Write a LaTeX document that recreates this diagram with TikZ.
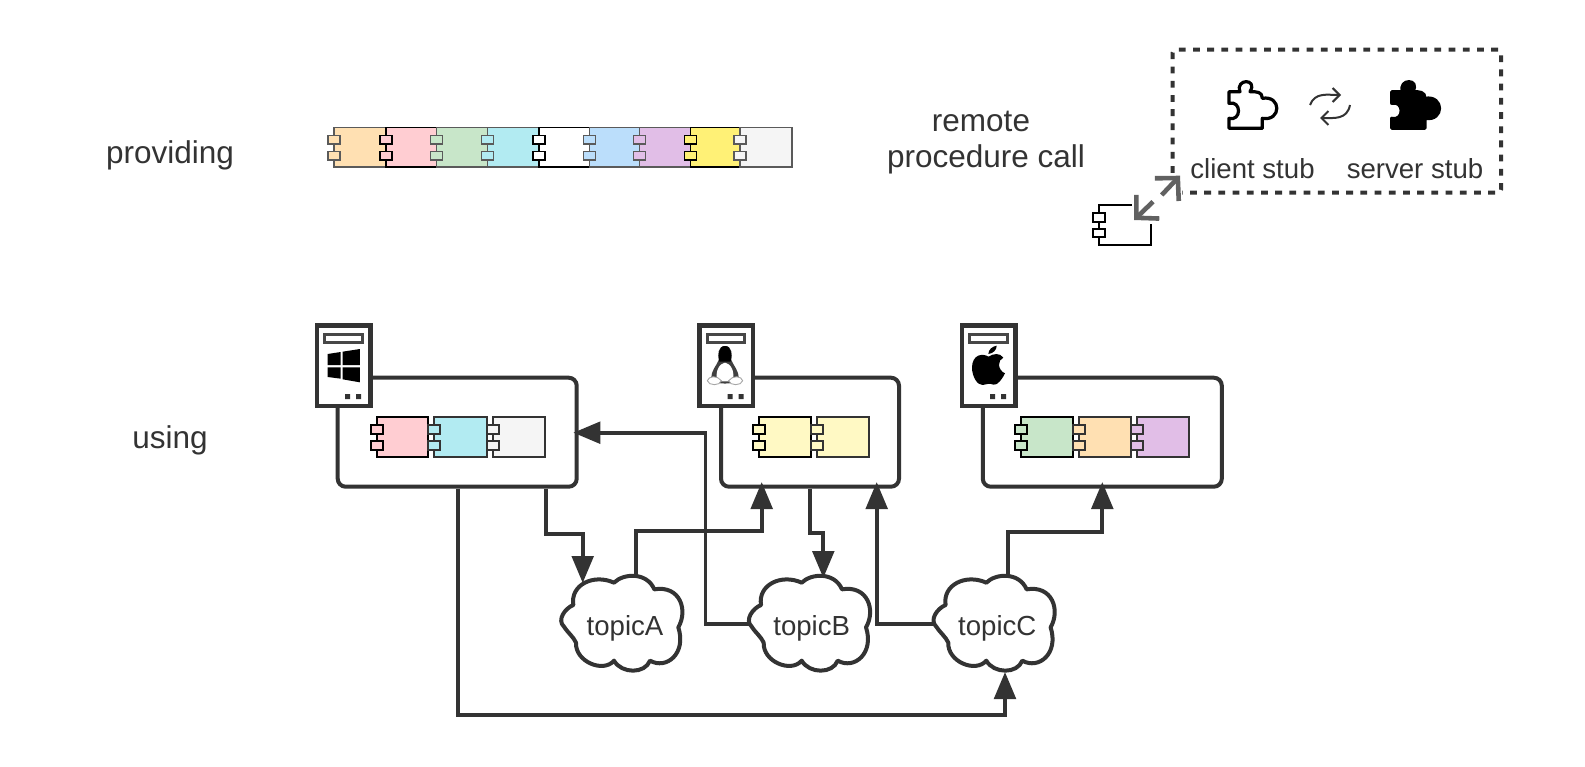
\documentclass[tikz,border=0pt]{standalone}
\usepackage{fontspec}
\setmainfont{Liberation Sans}
\usetikzlibrary{arrows.meta,calc}
\definecolor{ink}{HTML}{333333}
\definecolor{cgrey}{HTML}{5A5A5A}
\definecolor{corange}{HTML}{FFE0B2}
\definecolor{cpink}{HTML}{FFCDD2}
\definecolor{cgreen}{HTML}{C8E6C9}
\definecolor{ccyan}{HTML}{B2EBF2}
\definecolor{cblue}{HTML}{BBDEFB}
\definecolor{cpurple}{HTML}{E1BEE7}
\definecolor{cyellow}{HTML}{FFF176}
\definecolor{clight}{HTML}{F5F5F5}
\definecolor{cpale}{HTML}{FFF9C4}
\newcommand{\compo}[6]{%
  \draw[draw=#5,fill=#4,line width=#6] (#1,#3) rectangle (#2,#3+39.5);
  \draw[draw=#5,fill=#4,line width=#6] (#1-6,#3+8) rectangle (#1+6,#3+16.5);
  \draw[draw=#5,fill=#4,line width=#6] (#1-6,#3+24) rectangle (#1+6,#3+32.3);
}
\newcommand{\servericon}[2]{%
  \draw[draw=ink,fill=white,line width=4.5] (#1+2,325.5) rectangle (#1+55.5,406);
  \draw[draw=ink!90,fill=white,line width=3] (#1+9.5,334.5) rectangle (#1+47,342.5);
  \fill[ink] (#1+30,394) rectangle (#1+35,399) (#1+41,394) rectangle (#1+46,399);
}
\newcommand{\cloudshape}[1]{%
  \begin{scope}[shift={(540+#1,530)},x=0.3333pt,y=-0.3333pt]
  \draw[cloudline] (100,225) .. controls (75,235) and (50,270) .. (72,290)
    .. controls (85,310) and (100,320) .. (108,338)
    .. controls (105,395) and (190,430) .. (222,392)
    .. controls (245,432) and (315,432) .. (330,392)
    .. controls (380,420) and (440,370) .. (415,292)
    .. controls (445,240) and (420,165) .. (343,178)
    .. controls (320,125) and (250,130) .. (222,158)
    .. controls (160,130) and (90,165) .. (100,225) -- cycle;
  \end{scope}
}
\newcommand{\puzzle}[2]{%
  \begin{scope}[shift={(1060+#1,40)},x=0.3333pt,y=-0.3333pt]
  \draw[line width=3.2pt,line join=round,draw=black,fill=#2]
    (507,265) -- (607,265) -- (607,235)
    .. controls (665,245) and (665,165) .. (607,175)
    .. controls (607,155) and (590,155) .. (570,155)
    .. controls (595,115) and (525,115) .. (540,155)
    -- (507,155) -- (507,190)
    .. controls (545,180) and (545,245) .. (507,235) -- cycle;
  \end{scope}
}
\tikzset{
  lab/.style={font=\fontsize{31.5}{36.5}\selectfont,text=ink,inner sep=0pt},
  small/.style={font=\fontsize{27.6}{32}\selectfont,text=ink,inner sep=0pt,anchor=base},
  hostbox/.style={draw=ink,line width=4pt,rounded corners=8pt,fill=white},
  cloudline/.style={draw=ink,fill=white,line width=4pt,line join=round},
  cloudbox/.style={minimum width=122pt,minimum height=96pt,inner sep=0pt},
  conn/.style={draw=ink,line width=3.8pt,line join=miter,-{Triangle[length=27pt,width=21.5pt]}},
  dbl/.style={draw=black!62,line width=4.6pt,-{Straight Barb[length=16pt,width=33pt]}},
}
\begin{document}
\begin{tikzpicture}[x=1pt,y=-1pt]
\useasboundingbox (0,0) rectangle (1585,766);
\fill[white] (0,0) rectangle (1585,766);

% labels
\node[lab,anchor=base] (providing) at (170,163) {providing};
\node[lab,anchor=base] (using) at (170,448) {using};
\node[lab,align=center] (rpc) at (986,142.5) {remote\hspace*{10pt}\\procedure call};

% provider bar
\compo{334}{386}{127.7}{corange}{cgrey}{1.5pt}
\compo{386}{436.7}{127.7}{cpink}{black}{1.5pt}
\compo{436.7}{487.3}{127.7}{cgreen}{cgrey}{1.5pt}
\compo{487.3}{539}{127.7}{ccyan}{cgrey}{1.5pt}
\compo{539}{589.3}{127.7}{white}{black}{1.5pt}
\compo{589.3}{639.3}{127.7}{cblue}{cgrey}{1.5pt}
\compo{639.3}{690.7}{127.7}{cpurple}{cgrey}{1.5pt}
\compo{690.7}{740}{127.7}{cyellow}{black}{1.5pt}
\compo{740}{792}{127.7}{clight}{cgrey}{1.5pt}

% stub group
\node[draw=ink,line width=4pt,dash pattern=on 6.8pt off 7.4pt,rounded corners=3pt,minimum width=328.3pt,minimum height=143pt,inner sep=0pt] (stubs) at (1336.85,121.2) {};
\puzzle{0}{white}
\puzzle{162.7}{black}
\draw[ink,line width=2pt,-{Straight Barb[length=7pt,width=14pt]}] (1310,105) .. controls (1315,92) and (1327,95) .. (1341,95);
\draw[ink,line width=2pt,-{Straight Barb[length=7pt,width=14pt]}] (1350,105) .. controls (1347,120) and (1334,118) .. (1320,118);
\node[small] (client) at (1252.5,178.3) {client stub};
\node[small] (server) at (1415,178.3) {server stub};

% lone component with its two arrows
\compo{1099}{1150.7}{205}{white}{black}{2pt}
\coordinate (dblA) at (1134,220);
\coordinate (dblB) at (1180,175.7);
\coordinate (gapA) at (1153,201.7);
\coordinate (gapB) at (1161.7,195);
\fill[white] (1132,200) rectangle (1154,224);
\fill[white] (1160,173) rectangle (1181.5,200);
\draw[dbl] (gapA) -- (dblA);
\draw[dbl] (gapB) -- (dblB);

% host boxes
\node[hostbox,minimum width=239pt,minimum height=109pt,inner sep=0pt] (boxA) at (457.2,432.2) {};
\node[hostbox,minimum width=178pt,minimum height=109pt,inner sep=0pt] (boxB) at (810,432.2) {};
\node[hostbox,minimum width=239pt,minimum height=109pt,inner sep=0pt] (boxC) at (1102.3,432.2) {};

% components in boxes
\compo{376.7}{428.3}{417.3}{cpink}{black}{2pt}
\compo{434.3}{486.7}{417.3}{ccyan}{ink}{2pt}
\compo{492.7}{545}{417.3}{clight}{ink}{2pt}
\compo{759.3}{810.7}{417.3}{cpale}{black}{2pt}
\compo{817.3}{869}{417.3}{cpale}{ink}{2pt}
\compo{1021}{1073.3}{417.3}{cgreen}{black}{2pt}
\compo{1079.3}{1131.3}{417.3}{corange}{ink}{2pt}
\compo{1137.3}{1189.3}{417.3}{cpurple}{ink}{2pt}

% server icons
\servericon{315}{}
\servericon{697.7}{}
\servericon{960}{}
% windows logo
\begin{scope}[shift={(300,310)},x=0.3333pt,y=-0.3333pt]
\fill[black] (83,132) -- (122,126) -- (122,165) -- (83,165) -- cycle
  (128,125) -- (180,117) -- (180,165) -- (128,165) -- cycle
  (83,172) -- (122,172) -- (122,206) -- (83,201) -- cycle
  (128,172) -- (180,172) -- (180,217) -- (128,208) -- cycle;
\end{scope}
% tux
\begin{scope}[shift={(680,310)},x=0.3333pt,y=-0.3333pt]
\fill[black!75] (135,108) .. controls (113,108) and (113,135) .. (116,150)
  .. controls (108,170) and (94,180) .. (94,205)
  .. controls (100,226) and (170,226) .. (176,205)
  .. controls (176,180) and (162,170) .. (154,150)
  .. controls (157,135) and (157,108) .. (135,108) -- cycle;
\fill[black] (135,108) .. controls (115,108) and (115,135) .. (118,155)
  -- (152,155) .. controls (155,135) and (155,108) .. (135,108) -- cycle;
\fill[white] (135,158) .. controls (118,160) and (104,185) .. (112,214)
  -- (158,214) .. controls (166,185) and (152,160) .. (135,158) -- cycle;
\draw[black!35,fill=white,line width=0.9pt] (82,212) .. controls (85,198) and (112,195) .. (124,212) .. controls (121,228) and (85,228) .. (82,212) -- cycle;
\draw[black!35,fill=white,line width=0.9pt] (188,212) .. controls (185,198) and (158,195) .. (146,212) .. controls (149,228) and (185,228) .. (188,212) -- cycle;
\end{scope}
% apple
\begin{scope}[shift={(940,310)},x=0.3333pt,y=-0.3333pt]
\fill[black] (146,140) .. controls (125,128) and (97,135) .. (96,172)
  .. controls (96,200) and (112,226) .. (128,225)
  .. controls (138,224) and (148,218) .. (160,224)
  .. controls (172,228) and (188,205) .. (195,190)
  .. controls (172,180) and (172,150) .. (190,143)
  .. controls (180,128) and (160,130) .. (146,140) -- cycle;
\fill[black] (145,132) .. controls (146,118) and (156,110) .. (170,107) .. controls (170,120) and (160,130) .. (145,132) -- cycle;
\end{scope}

% clouds
\cloudshape{0}
\cloudshape{187.7}
\cloudshape{372.3}
\node[cloudbox] (topicA) at (622.3,624) {};
\node[cloudbox] (topicB) at (810,624) {};
\node[cloudbox] (topicC) at (994.6,624) {};
\node[small] (textA) at (625,635.7) {topicA};
\node[small] (textB) at (811.7,635.7) {topicB};
\node[small] (textC) at (997.3,635.7) {topicC};

% connectors
\coordinate (tipAin) at (582.7,583);
\coordinate (tipBin) at (823.3,578);
\coordinate (tipCin) at (1005,672);
\coordinate (tipAbox) at (573.3,432.7);
\coordinate (tipB1) at (761.7,482);
\coordinate (tipB2) at (876.7,482);
\coordinate (tipC) at (1102.3,482);
\draw[conn] (546,0 |- boxA.south) -- (546,534) -| (tipAin);
\draw[conn] (636,0 |- topicA.north) -- (636,531) -| (tipB1);
\draw[conn] (topicB.west) -| (705.5,432.7) -- (tipAbox);
\draw[conn] (810,0 |- boxB.south) -- (810,533) -| (tipBin);
\draw[conn] (topicC.west) -| (tipB2);
\draw[conn] (1008.3,0 |- topicC.north) -- (1008.3,532) -| (tipC);
\draw[conn] (458,0 |- boxA.south) |- (1005,715) -- (tipCin);
\end{tikzpicture}
\end{document}
